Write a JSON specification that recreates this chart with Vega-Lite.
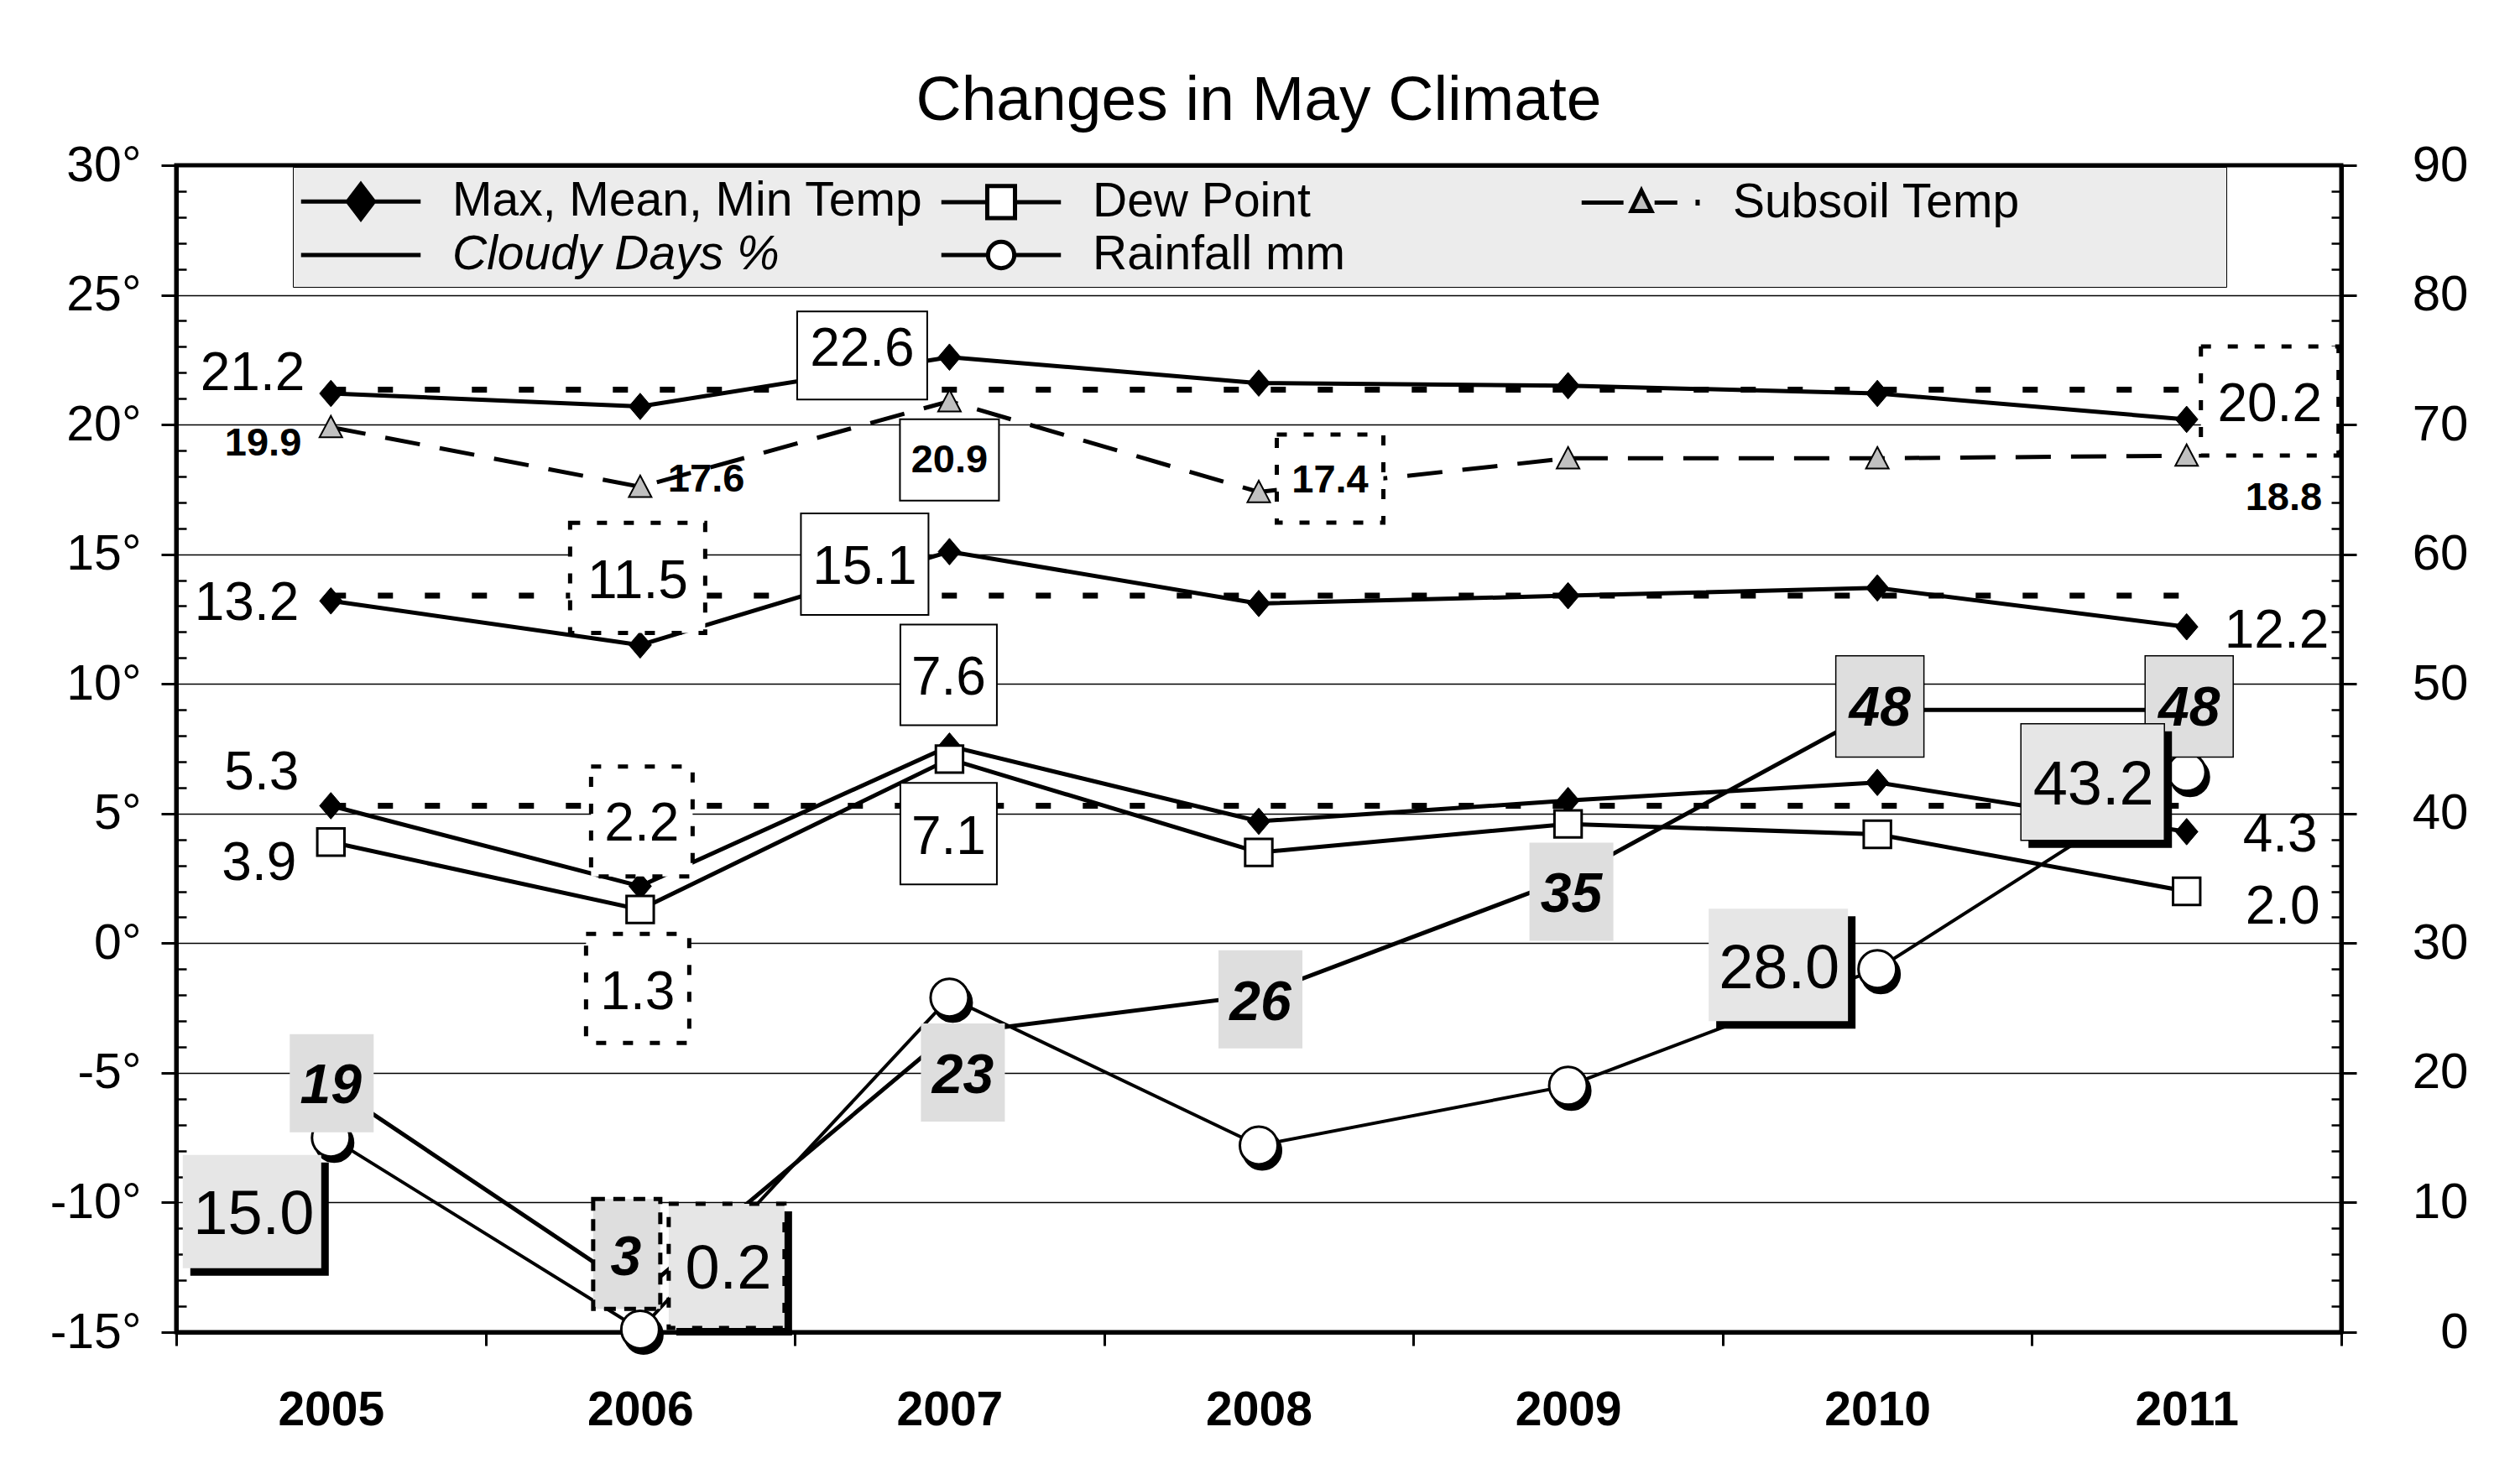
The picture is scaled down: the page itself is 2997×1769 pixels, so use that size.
{
"$schema":"https://vega.github.io/schema/vega-lite/v6.json",
"width":2580,"height":1391,
"autosize":{"type":"none"},
"padding":{"left":210,"top":197,"right":207,"bottom":181},
"background":"white",
"title":{"text":"Changes in May Climate","fontSize":75,"font":"Liberation Sans","fontWeight":"normal","color":"black","anchor":"middle","frame":"group","baseline":"alphabetic","offset":54,"dy":105},
"data":{"values":[
{"year":"2005","series":"Max, Mean, Min Temp","kind":"Max","value":21.2},
{"year":"2006","series":"Max, Mean, Min Temp","kind":"Max","value":20.7},
{"year":"2007","series":"Max, Mean, Min Temp","kind":"Max","value":22.6},
{"year":"2008","series":"Max, Mean, Min Temp","kind":"Max","value":21.6},
{"year":"2009","series":"Max, Mean, Min Temp","kind":"Max","value":21.5},
{"year":"2010","series":"Max, Mean, Min Temp","kind":"Max","value":21.2},
{"year":"2011","series":"Max, Mean, Min Temp","kind":"Max","value":20.2},
{"year":"2005","series":"Max, Mean, Min Temp","kind":"Mean","value":13.2},
{"year":"2006","series":"Max, Mean, Min Temp","kind":"Mean","value":11.5},
{"year":"2007","series":"Max, Mean, Min Temp","kind":"Mean","value":15.1},
{"year":"2008","series":"Max, Mean, Min Temp","kind":"Mean","value":13.1},
{"year":"2009","series":"Max, Mean, Min Temp","kind":"Mean","value":13.4},
{"year":"2010","series":"Max, Mean, Min Temp","kind":"Mean","value":13.7},
{"year":"2011","series":"Max, Mean, Min Temp","kind":"Mean","value":12.2},
{"year":"2005","series":"Max, Mean, Min Temp","kind":"Min","value":5.3},
{"year":"2006","series":"Max, Mean, Min Temp","kind":"Min","value":2.2},
{"year":"2007","series":"Max, Mean, Min Temp","kind":"Min","value":7.6},
{"year":"2008","series":"Max, Mean, Min Temp","kind":"Min","value":4.7},
{"year":"2009","series":"Max, Mean, Min Temp","kind":"Min","value":5.5},
{"year":"2010","series":"Max, Mean, Min Temp","kind":"Min","value":6.2},
{"year":"2011","series":"Max, Mean, Min Temp","kind":"Min","value":4.3},
{"year":"2005","series":"Dew Point","kind":"Dew","value":3.9},
{"year":"2006","series":"Dew Point","kind":"Dew","value":1.3},
{"year":"2007","series":"Dew Point","kind":"Dew","value":7.1},
{"year":"2008","series":"Dew Point","kind":"Dew","value":3.5},
{"year":"2009","series":"Dew Point","kind":"Dew","value":4.6},
{"year":"2010","series":"Dew Point","kind":"Dew","value":4.2},
{"year":"2011","series":"Dew Point","kind":"Dew","value":2.0},
{"year":"2005","series":"Subsoil Temp","kind":"Subsoil","value":19.9},
{"year":"2006","series":"Subsoil Temp","kind":"Subsoil","value":17.6},
{"year":"2007","series":"Subsoil Temp","kind":"Subsoil","value":20.9},
{"year":"2008","series":"Subsoil Temp","kind":"Subsoil","value":17.4},
{"year":"2009","series":"Subsoil Temp","kind":"Subsoil","value":18.7},
{"year":"2010","series":"Subsoil Temp","kind":"Subsoil","value":18.7},
{"year":"2011","series":"Subsoil Temp","kind":"Subsoil","value":18.8},
{"year":"2005","series":"Cloudy Days %","kind":"Cloudy","value":19},
{"year":"2006","series":"Cloudy Days %","kind":"Cloudy","value":3},
{"year":"2007","series":"Cloudy Days %","kind":"Cloudy","value":23},
{"year":"2008","series":"Cloudy Days %","kind":"Cloudy","value":26},
{"year":"2009","series":"Cloudy Days %","kind":"Cloudy","value":35},
{"year":"2010","series":"Cloudy Days %","kind":"Cloudy","value":48},
{"year":"2011","series":"Cloudy Days %","kind":"Cloudy","value":48},
{"year":"2005","series":"Rainfall mm","kind":"Rain","value":15.0},
{"year":"2006","series":"Rainfall mm","kind":"Rain","value":0.2},
{"year":"2007","series":"Rainfall mm","kind":"Rain","value":25.8},
{"year":"2008","series":"Rainfall mm","kind":"Rain","value":14.4},
{"year":"2009","series":"Rainfall mm","kind":"Rain","value":19.0},
{"year":"2010","series":"Rainfall mm","kind":"Rain","value":28.0},
{"year":"2011","series":"Rainfall mm","kind":"Rain","value":43.2},
{"year":"2005","series":"Average","kind":"AvgMax","value":21.35},
{"year":"2011","series":"Average","kind":"AvgMax","value":21.35},
{"year":"2005","series":"Average","kind":"AvgMean","value":13.4},
{"year":"2011","series":"Average","kind":"AvgMean","value":13.4},
{"year":"2005","series":"Average","kind":"AvgMin","value":5.3},
{"year":"2011","series":"Average","kind":"AvgMin","value":5.3}
]},
"encoding":{"x":{"field":"year","type":"ordinal","scale":{"type":"band","paddingInner":0,"paddingOuter":0},
 "axis":{"title":null,"labelAngle":0,"labelFont":"Liberation Sans","labelFontSize":57,"labelFontWeight":"bold","labelColor":"black","labelPadding":49,"tickBand":"extent","tickSize":16,"tickWidth":3,"tickColor":"black","domainColor":"black","domainWidth":5,"grid":false}}},
"layer":[
{
"encoding":{"y":{"field":"value","type":"quantitative","scale":{"domain":[-15,30],"nice":false,"zero":false},
 "axis":{"orient":"left","title":null,"values":[-15,-10,-5,0,5,10,15,20,25,30],"labelExpr":"datum.value + '°'","grid":true,"gridColor":"black","gridWidth":1.5,"domainColor":"black","domainWidth":5,"tickColor":"black","tickWidth":3,"tickSize":18,"labelFont":"Liberation Sans","labelFontSize":59,"labelColor":"black","labelPadding":24}}},
"layer":[
{"transform":[{"filter":{"field":"kind","oneOf":["AvgMax","AvgMean","AvgMin"]}}],"mark":{"type":"line","stroke":"black","strokeWidth":7,"strokeDash":[18,38]},"encoding":{"detail":{"field":"kind"}}},
{"transform":[{"filter":{"field":"kind","oneOf":["Max","Mean","Min","Dew"]}}],"mark":{"type":"line","stroke":"black","strokeWidth":5},"encoding":{"detail":{"field":"kind"}}},
{"transform":[{"filter":{"field":"kind","equal":"Subsoil"}}],"mark":{"type":"line","stroke":"black","strokeWidth":5,"strokeDash":[42,24]}},
{"transform":[{"filter":"false"}],"mark":{"type":"point","opacity":1,"filled":true,"stroke":"black","strokeWidth":5},
 "encoding":{
  "shape":{"field":"series","type":"nominal",
   "scale":{"domain":["Max, Mean, Min Temp","Dew Point","Subsoil Temp","Cloudy Days %","Rainfall mm"],
    "range":["M-2.5,0H2.5M0,-0.72L0.55,0L0,0.72L-0.55,0Z","M-2.5,0H-0.58M0.58,0H2.5M-0.58,-0.67H0.58V0.67H-0.58Z","M-2.5,0H-0.75M0.55,0H1.5M2.35,-0.12V0.12M0,-0.5L0.42,0.35L-0.42,0.35Z","M-2.5,0H2.5","M-2.5,0H-0.55M0.55,0H2.5M0.55,0A0.55,0.55,0,1,1,-0.55,0A0.55,0.55,0,1,1,0.55,0Z"]},
   "legend":{"title":"\u00a0","titleOrient":"right","titleColor":"transparent","titleFontSize":10,"titlePadding":236,
    "orient":"none","legendX":139,"legendY":2,"direction":"horizontal","columns":3,"gridAlign":"all","columnPadding":11,"rowPadding":2,"padding":10,
    "fillColor":"#ececec","strokeColor":"black",
    "symbolSize":3249,"symbolStrokeWidth":5,"symbolStrokeColor":"black","symbolOffset":40,"symbolOpacity":1,
    "labelFont":"Liberation Sans","labelFontSize":57,"labelColor":"black","labelOffset":78,"labelLimit":2000,
    "labelFontStyle":{"expr":"datum.label == 'Cloudy Days %' ? 'italic' : 'normal'"}}},
  "fill":{"field":"series","type":"nominal",
   "scale":{"domain":["Max, Mean, Min Temp","Dew Point","Subsoil Temp","Cloudy Days %","Rainfall mm"],"range":["black","white","#c0c0c0","transparent","white"]}},
  "stroke":{"field":"series","type":"nominal",
   "scale":{"domain":["Max, Mean, Min Temp","Dew Point","Subsoil Temp","Cloudy Days %","Rainfall mm"],"range":["black","black","black","black","black"]}}
 }},
{"transform":[{"filter":{"field":"kind","oneOf":["Max","Mean","Min"]}}],"mark":{"type":"point","shape":"M0,-1L0.85,0L0,1L-0.85,0Z","size":1000,"filled":true,"fill":"black","stroke":"black","strokeWidth":1,"opacity":1}},
{"transform":[{"filter":{"field":"kind","equal":"Dew"}}],"mark":{"type":"point","shape":"square","size":1050,"filled":true,"fill":"white","stroke":"black","strokeWidth":3,"opacity":1}},
{"transform":[{"filter":{"field":"kind","equal":"Subsoil"}}],"mark":{"type":"point","shape":"M0,-1L1,0.9L-1,0.9Z","size":729,"filled":true,"fill":"#c0c0c0","stroke":"black","strokeWidth":2,"opacity":1}},

{"transform":[{"filter":"datum.kind=='Max' && datum.year=='2007'"}],"mark":{"type":"point","shape":"M-1,-0.677H1V0.677H-1Z","size":24025,"filled":true,"fill":"white","stroke":"black","strokeWidth":2,"opacity":1,"xOffset":-104,"yOffset":-2}},
{"transform":[{"filter":"datum.kind=='Max' && datum.year=='2007'"}],"mark":{"type":"text","fontSize":64,"color":"black","dx":-104,"dy":-9},"encoding":{"text":{"field":"value","type":"quantitative","format":".1f"}}},
{"transform":[{"filter":"datum.kind=='Max' && datum.year=='2011'"}],"mark":{"type":"point","shape":"M-1,-0.793H1V0.793H-1Z","size":26896,"filled":true,"fill":"white","stroke":"black","strokeWidth":5,"strokeDash":[12,20],"opacity":1,"xOffset":99,"yOffset":-22}},
{"transform":[{"filter":"datum.kind=='Max' && datum.year=='2011'"}],"mark":{"type":"text","fontSize":64,"color":"black","dx":99,"dy":-17},"encoding":{"text":{"field":"value","type":"quantitative","format":".1f"}}},
{"transform":[{"filter":"datum.kind=='Mean' && datum.year=='2006'"}],"mark":{"type":"point","shape":"M-1,-0.814H1V0.814H-1Z","size":25921,"filled":true,"fill":"white","stroke":"black","strokeWidth":5,"strokeDash":[12,20],"opacity":1,"xOffset":-3,"yOffset":-80}},
{"transform":[{"filter":"datum.kind=='Mean' && datum.year=='2006'"}],"mark":{"type":"text","fontSize":64,"color":"black","dx":-3,"dy":-75},"encoding":{"text":{"field":"value","type":"quantitative","format":".1f"}}},
{"transform":[{"filter":"datum.kind=='Mean' && datum.year=='2007'"}],"mark":{"type":"point","shape":"M-1,-0.796H1V0.796H-1Z","size":23104,"filled":true,"fill":"white","stroke":"black","strokeWidth":2,"opacity":1,"xOffset":-101,"yOffset":15}},
{"transform":[{"filter":"datum.kind=='Mean' && datum.year=='2007'"}],"mark":{"type":"text","fontSize":64,"color":"black","dx":-101,"dy":19},"encoding":{"text":{"field":"value","type":"quantitative","format":".1f"}}},
{"transform":[{"filter":"datum.kind=='Min' && datum.year=='2006'"}],"mark":{"type":"point","shape":"M-1,-1.083H1V1.083H-1Z","size":14641,"filled":true,"fill":"white","stroke":"black","strokeWidth":5,"strokeDash":[12,20],"opacity":1,"xOffset":2,"yOffset":-77}},
{"transform":[{"filter":"datum.kind=='Min' && datum.year=='2006'"}],"mark":{"type":"text","fontSize":64,"color":"black","dx":2,"dy":-73},"encoding":{"text":{"field":"value","type":"quantitative","format":".1f"}}},
{"transform":[{"filter":"datum.kind=='Min' && datum.year=='2007'"}],"mark":{"type":"point","shape":"M-1,-1.043H1V1.043H-1Z","size":13225,"filled":true,"fill":"white","stroke":"black","strokeWidth":2,"opacity":1,"xOffset":-1,"yOffset":-85}},
{"transform":[{"filter":"datum.kind=='Min' && datum.year=='2007'"}],"mark":{"type":"text","fontSize":64,"color":"black","dx":-1,"dy":-80},"encoding":{"text":{"field":"value","type":"quantitative","format":".1f"}}},
{"transform":[{"filter":"datum.kind=='Dew' && datum.year=='2006'"}],"mark":{"type":"point","shape":"M-1,-1.057H1V1.057H-1Z","size":15129,"filled":true,"fill":"white","stroke":"black","strokeWidth":5,"strokeDash":[12,20],"opacity":1,"xOffset":-3,"yOffset":94}},
{"transform":[{"filter":"datum.kind=='Dew' && datum.year=='2006'"}],"mark":{"type":"text","fontSize":64,"color":"black","dx":-3,"dy":100},"encoding":{"text":{"field":"value","type":"quantitative","format":".1f"}}},
{"transform":[{"filter":"datum.kind=='Dew' && datum.year=='2007'"}],"mark":{"type":"point","shape":"M-1,-1.052H1V1.052H-1Z","size":13225,"filled":true,"fill":"white","stroke":"black","strokeWidth":2,"opacity":1,"xOffset":-1,"yOffset":89}},
{"transform":[{"filter":"datum.kind=='Dew' && datum.year=='2007'"}],"mark":{"type":"text","fontSize":64,"color":"black","dx":-1,"dy":94},"encoding":{"text":{"field":"value","type":"quantitative","format":".1f"}}},
{"transform":[{"filter":"datum.kind=='Subsoil' && datum.year=='2007'"}],"mark":{"type":"point","shape":"M-1,-0.822H1V0.822H-1Z","size":13924,"filled":true,"fill":"white","stroke":"black","strokeWidth":2,"opacity":1,"xOffset":0,"yOffset":70}},
{"transform":[{"filter":"datum.kind=='Subsoil' && datum.year=='2007'"}],"mark":{"type":"text","fontSize":47,"fontWeight":"bold","color":"black","dx":0,"dy":71},"encoding":{"text":{"field":"value","type":"quantitative","format":".1f"}}},
{"transform":[{"filter":"datum.kind=='Subsoil' && datum.year=='2008'"}],"mark":{"type":"point","shape":"M-1,-0.827H1V0.827H-1Z","size":16129,"filled":true,"fill":"white","stroke":"black","strokeWidth":5,"strokeDash":[12,20],"opacity":1,"xOffset":85,"yOffset":-16}},
{"transform":[{"filter":"datum.kind=='Subsoil' && datum.year=='2008'"}],"mark":{"type":"text","fontSize":47,"fontWeight":"bold","color":"black","dx":85,"dy":-13},"encoding":{"text":{"field":"value","type":"quantitative","format":".1f"}}},

{"transform":[{"filter":"datum.kind=='Max' && datum.year=='2005'"}],"mark":{"type":"text","fontSize":64,"color":"black","align":"right","dx":-31,"dy":-23},"encoding":{"text":{"field":"value","type":"quantitative","format":".1f"}}},
{"transform":[{"filter":"datum.kind=='Mean' && datum.year=='2005'"}],"mark":{"type":"text","fontSize":64,"color":"black","align":"right","dx":-38,"dy":4},"encoding":{"text":{"field":"value","type":"quantitative","format":".1f"}}},
{"transform":[{"filter":"datum.kind=='Min' && datum.year=='2005'"}],"mark":{"type":"text","fontSize":64,"color":"black","align":"right","dx":-38,"dy":-39},"encoding":{"text":{"field":"value","type":"quantitative","format":".1f"}}},
{"transform":[{"filter":"datum.kind=='Dew' && datum.year=='2005'"}],"mark":{"type":"text","fontSize":64,"color":"black","align":"right","dx":-41,"dy":26},"encoding":{"text":{"field":"value","type":"quantitative","format":".1f"}}},
{"transform":[{"filter":"datum.kind=='Subsoil' && datum.year=='2005'"}],"mark":{"type":"text","fontSize":47,"fontWeight":"bold","color":"black","align":"right","dx":-35,"dy":20},"encoding":{"text":{"field":"value","type":"quantitative","format":".1f"}}},
{"transform":[{"filter":"datum.kind=='Subsoil' && datum.year=='2006'"}],"mark":{"type":"text","fontSize":47,"fontWeight":"bold","color":"black","align":"left","dx":33,"dy":-8},"encoding":{"text":{"field":"value","type":"quantitative","format":".1f"}}},
{"transform":[{"filter":"datum.kind=='Mean' && datum.year=='2011'"}],"mark":{"type":"text","fontSize":64,"color":"black","align":"left","dx":45,"dy":6},"encoding":{"text":{"field":"value","type":"quantitative","format":".1f"}}},
{"transform":[{"filter":"datum.kind=='Min' && datum.year=='2011'"}],"mark":{"type":"text","fontSize":64,"color":"black","align":"left","dx":67,"dy":5},"encoding":{"text":{"field":"value","type":"quantitative","format":".1f"}}},
{"transform":[{"filter":"datum.kind=='Dew' && datum.year=='2011'"}],"mark":{"type":"text","fontSize":64,"color":"black","align":"left","dx":70,"dy":19},"encoding":{"text":{"field":"value","type":"quantitative","format":".1f"}}},
{"transform":[{"filter":"datum.kind=='Subsoil' && datum.year=='2011'"}],"mark":{"type":"text","fontSize":47,"fontWeight":"bold","color":"black","align":"left","dx":70,"dy":51},"encoding":{"text":{"field":"value","type":"quantitative","format":".1f"}}}
]
},
{
"encoding":{"y":{"field":"value","type":"quantitative","scale":{"domain":[0,90],"nice":false,"zero":false},
 "axis":{"orient":"right","title":null,"values":[0,10,20,30,40,50,60,70,80,90],"grid":false,"domainColor":"black","domainWidth":5,"tickColor":"black","tickWidth":3,"tickSize":18,"labelFont":"Liberation Sans","labelFontSize":60,"labelColor":"black","labelAlign":"right","labelPadding":133}}},
"layer":[
{"transform":[{"filter":{"field":"kind","equal":"Cloudy"}}],"mark":{"type":"line","stroke":"black","strokeWidth":5}},
{"transform":[{"filter":{"field":"kind","equal":"Rain"}}],"mark":{"type":"line","stroke":"black","strokeWidth":4}},
{"transform":[{"filter":{"field":"kind","equal":"Rain"}}],"mark":{"type":"point","shape":"circle","size":2025,"filled":true,"fill":"black","stroke":"black","strokeWidth":3,"opacity":1,"xOffset":4,"yOffset":6}},
{"transform":[{"filter":{"field":"kind","equal":"Rain"}}],"mark":{"type":"point","shape":"circle","size":2025,"filled":true,"fill":"white","stroke":"black","strokeWidth":3,"opacity":1}},

{"transform":[{"filter":"datum.kind=='Cloudy' && datum.year=='2005'"}],"mark":{"type":"point","shape":"M-1,-1.17H1V1.17H-1Z","size":10000,"filled":true,"fill":"#dedede","strokeWidth":0,"opacity":1,"xOffset":1,"yOffset":-3}},
{"transform":[{"filter":"datum.kind=='Cloudy' && datum.year=='2005'"}],"mark":{"type":"text","fontSize":66,"fontWeight":"bold","fontStyle":"italic","color":"black","dx":0,"dy":1},"encoding":{"text":{"field":"value","type":"quantitative","format":"d"}}},
{"transform":[{"filter":"datum.kind=='Cloudy' && datum.year=='2006'"}],"mark":{"type":"point","shape":"M-1,-1.6375H1V1.6375H-1Z","size":6400,"filled":true,"fill":"#dedede","stroke":"black","strokeWidth":5,"strokeDash":[14,10],"opacity":1,"xOffset":-16,"yOffset":-47}},
{"transform":[{"filter":"datum.kind=='Cloudy' && datum.year=='2006'"}],"mark":{"type":"text","fontSize":66,"fontWeight":"bold","fontStyle":"italic","color":"black","dx":-17,"dy":-42},"encoding":{"text":{"field":"value","type":"quantitative","format":"d"}}},
{"transform":[{"filter":"datum.kind=='Cloudy' && datum.year=='2007'"}],"mark":{"type":"point","shape":"M-1,-1.17H1V1.17H-1Z","size":10000,"filled":true,"fill":"#dedede","strokeWidth":0,"opacity":1,"xOffset":16,"yOffset":46}},
{"transform":[{"filter":"datum.kind=='Cloudy' && datum.year=='2007'"}],"mark":{"type":"text","fontSize":66,"fontWeight":"bold","fontStyle":"italic","color":"black","dx":16,"dy":50},"encoding":{"text":{"field":"value","type":"quantitative","format":"d"}}},
{"transform":[{"filter":"datum.kind=='Cloudy' && datum.year=='2008'"}],"mark":{"type":"point","shape":"M-1,-1.17H1V1.17H-1Z","size":10000,"filled":true,"fill":"#dedede","strokeWidth":0,"opacity":1,"xOffset":2,"yOffset":5}},
{"transform":[{"filter":"datum.kind=='Cloudy' && datum.year=='2008'"}],"mark":{"type":"text","fontSize":66,"fontWeight":"bold","fontStyle":"italic","color":"black","dx":2,"dy":10},"encoding":{"text":{"field":"value","type":"quantitative","format":"d"}}},
{"transform":[{"filter":"datum.kind=='Cloudy' && datum.year=='2009'"}],"mark":{"type":"point","shape":"M-1,-1.17H1V1.17H-1Z","size":10000,"filled":true,"fill":"#dedede","strokeWidth":0,"opacity":1,"xOffset":4,"yOffset":16}},
{"transform":[{"filter":"datum.kind=='Cloudy' && datum.year=='2009'"}],"mark":{"type":"text","fontSize":66,"fontWeight":"bold","fontStyle":"italic","color":"black","dx":4,"dy":20},"encoding":{"text":{"field":"value","type":"quantitative","format":"d"}}},
{"transform":[{"filter":"datum.kind=='Cloudy' && (datum.year=='2010' || datum.year=='2011')"}],"mark":{"type":"point","shape":"M-1,-1.15H1V1.15H-1Z","size":11025,"filled":true,"fill":"#dedede","stroke":"black","strokeWidth":1.5,"opacity":1,"xOffset":3,"yOffset":-4}},
{"transform":[{"filter":"datum.kind=='Cloudy' && (datum.year=='2010' || datum.year=='2011')"}],"mark":{"type":"text","fontSize":66,"fontWeight":"bold","fontStyle":"italic","color":"black","dx":3,"dy":-1},"encoding":{"text":{"field":"value","type":"quantitative","format":"d"}}},

{"transform":[{"filter":"datum.kind=='Rain' && datum.year=='2005'"}],"mark":{"type":"point","shape":"M-1,-0.818H1V0.818H-1Z","size":27225,"filled":true,"fill":"black","strokeWidth":0,"opacity":1,"xOffset":-85,"yOffset":97}},
{"transform":[{"filter":"datum.kind=='Rain' && datum.year=='2005'"}],"mark":{"type":"point","shape":"M-1,-0.818H1V0.818H-1Z","size":27225,"filled":true,"fill":"#e6e6e6","strokeWidth":0,"opacity":1,"xOffset":-94,"yOffset":88}},
{"transform":[{"filter":"datum.kind=='Rain' && datum.year=='2005'"}],"mark":{"type":"text","fontSize":74,"color":"black","dx":-92,"dy":93},"encoding":{"text":{"field":"value","type":"quantitative","format":".1f"}}},
{"transform":[{"filter":"datum.kind=='Rain' && datum.year=='2006'"}],"mark":{"type":"point","shape":"M-1,-1.072H1V1.072H-1Z","size":19044,"filled":true,"fill":"black","strokeWidth":0,"opacity":1,"xOffset":112,"yOffset":-67}},
{"transform":[{"filter":"datum.kind=='Rain' && datum.year=='2006'"}],"mark":{"type":"point","shape":"M-1,-1.072H1V1.072H-1Z","size":19044,"filled":true,"fill":"#e6e6e6","stroke":"black","strokeWidth":5,"strokeDash":[12,20],"opacity":1,"xOffset":103,"yOffset":-76}},
{"transform":[{"filter":"datum.kind=='Rain' && datum.year=='2006'"}],"mark":{"type":"text","fontSize":74,"color":"black","dx":105,"dy":-71},"encoding":{"text":{"field":"value","type":"quantitative","format":".1f"}}},
{"transform":[{"filter":"datum.kind=='Rain' && datum.year=='2010'"}],"mark":{"type":"point","shape":"M-1,-0.807H1V0.807H-1Z","size":27556,"filled":true,"fill":"black","strokeWidth":0,"opacity":1,"xOffset":-109,"yOffset":4}},
{"transform":[{"filter":"datum.kind=='Rain' && datum.year=='2010'"}],"mark":{"type":"point","shape":"M-1,-0.807H1V0.807H-1Z","size":27556,"filled":true,"fill":"#e6e6e6","strokeWidth":0,"opacity":1,"xOffset":-118,"yOffset":-5}},
{"transform":[{"filter":"datum.kind=='Rain' && datum.year=='2010'"}],"mark":{"type":"text","fontSize":74,"color":"black","dx":-117,"dy":1},"encoding":{"text":{"field":"value","type":"quantitative","format":".1f"}}},
{"transform":[{"filter":"datum.kind=='Rain' && datum.year=='2011'"}],"mark":{"type":"point","shape":"M-1,-0.813H1V0.813H-1Z","size":29241,"filled":true,"fill":"black","strokeWidth":0,"opacity":1,"xOffset":-103,"yOffset":21}},
{"transform":[{"filter":"datum.kind=='Rain' && datum.year=='2011'"}],"mark":{"type":"point","shape":"M-1,-0.813H1V0.813H-1Z","size":29241,"filled":true,"fill":"#e6e6e6","stroke":"black","strokeWidth":1.5,"opacity":1,"xOffset":-112,"yOffset":12}},
{"transform":[{"filter":"datum.kind=='Rain' && datum.year=='2011'"}],"mark":{"type":"text","fontSize":74,"color":"black","dx":-111,"dy":17},"encoding":{"text":{"field":"value","type":"quantitative","format":".1f"}}}
]
},
{"transform":[{"filter":"false"}],"mark":{"type":"point"},
 "encoding":{"y":{"field":"value","type":"quantitative","scale":{"domain":[-15,30],"nice":false,"zero":false},
  "axis":{"orient":"left","title":null,"labels":false,"domain":false,"grid":false,"tickSize":-12,"tickWidth":2.5,"tickColor":"black",
   "values":[-14,-13,-12,-11,-9,-8,-7,-6,-4,-3,-2,-1,1,2,3,4,6,7,8,9,11,12,13,14,16,17,18,19,21,22,23,24,26,27,28,29]}}}},
{"transform":[{"filter":"false"}],"mark":{"type":"point"},
 "encoding":{"y":{"field":"value","type":"quantitative","scale":{"domain":[0,90],"nice":false,"zero":false},
  "axis":{"orient":"right","title":null,"labels":false,"domain":false,"grid":false,"tickSize":-12,"tickWidth":2.5,"tickColor":"black",
   "values":[2,4,6,8,12,14,16,18,22,24,26,28,32,34,36,38,42,44,46,48,52,54,56,58,62,64,66,68,72,74,76,78,82,84,86,88]}}}}
],
"resolve":{"scale":{"y":"independent"}},
"config":{"font":"Liberation Sans","view":{"stroke":"black","strokeWidth":5},"text":{"font":"Liberation Sans"}}
}
